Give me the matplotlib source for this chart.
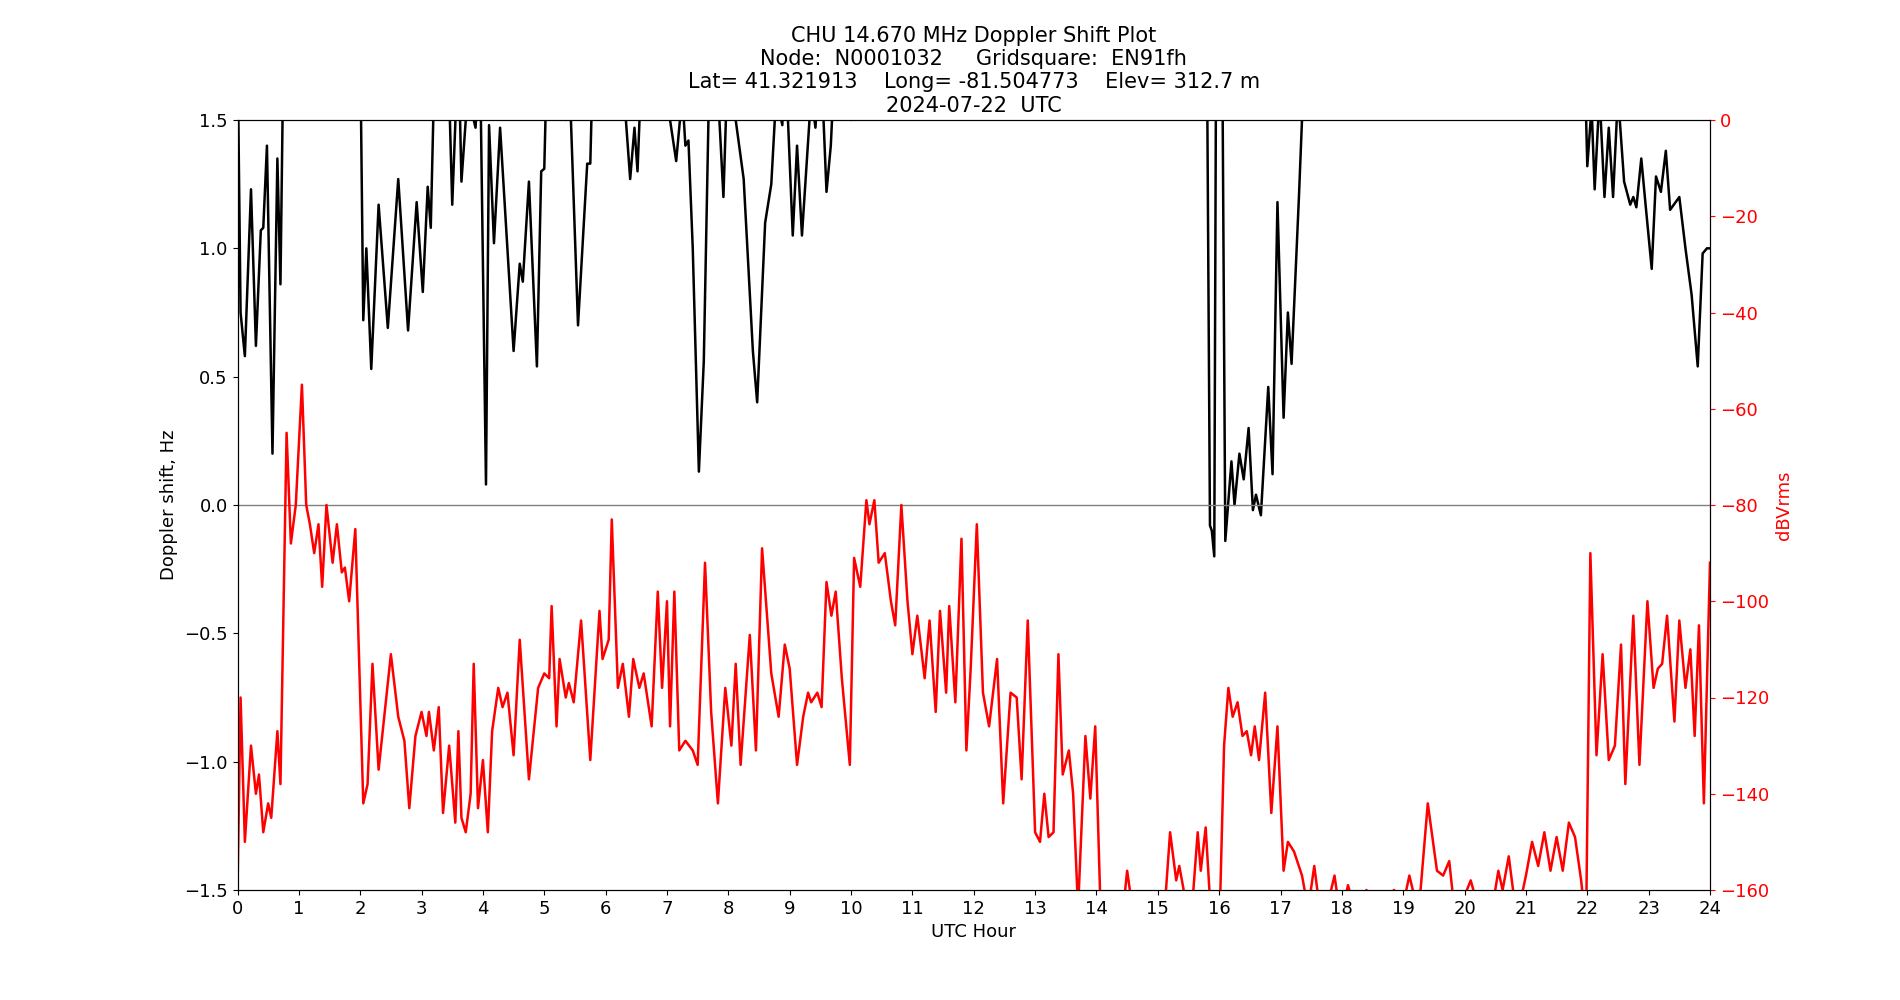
import matplotlib
matplotlib.use("Agg")
import matplotlib.pyplot as plt
import numpy as np

# Doppler shift (Hz); values above 1.5 run off the top of the plot
dop_h = [0, 0.05, 0.12, 0.22, 0.3, 0.38, 0.42, 0.48, 0.57, 0.65, 0.7, 0.75, 1.95, 2.0, 2.05, 2.1, 2.18, 2.3,
         2.45, 2.62, 2.78, 2.92, 3.02, 3.1, 3.15, 3.2, 3.3, 3.45, 3.5, 3.6, 3.65, 3.75, 3.88, 3.95, 4.05,
         4.1, 4.18, 4.28, 4.5, 4.6, 4.65, 4.75, 4.88, 4.95, 5.0, 5.05, 5.35, 5.42, 5.55, 5.7, 5.75, 5.8,
         6.3, 6.4, 6.47, 6.52, 6.6, 7.05, 7.15, 7.25, 7.3, 7.35, 7.42, 7.52, 7.6, 7.7, 7.85, 7.92, 8.0,
         8.12, 8.25, 8.4, 8.47, 8.6, 8.7, 8.78, 8.88, 8.92, 9.05, 9.12, 9.2, 9.35, 9.42, 9.5, 9.6, 9.67,
         9.75, 10.0, 10.05, 15.8, 15.85, 15.88, 15.92, 15.95, 16.05, 16.1, 16.2, 16.25, 16.33, 16.4, 16.48,
         16.55, 16.6, 16.68, 16.8, 16.87, 16.95, 17.05, 17.12, 17.18, 17.3, 17.35, 17.4, 21.95, 22.0, 22.07,
         22.12, 22.2, 22.28, 22.35, 22.42, 22.5, 22.6, 22.7, 22.75, 22.8, 22.88, 22.95, 23.05, 23.12, 23.2,
         23.28, 23.35, 23.5, 23.6, 23.7, 23.8, 23.88, 23.95, 24.0]
dop_hz = [1.8, 0.75, 0.58, 1.23, 0.62, 1.07, 1.08, 1.4, 0.2, 1.35, 0.86, 1.8, 1.8, 1.8, 0.72, 1.0, 0.53, 1.17,
          0.69, 1.27, 0.68, 1.18, 0.83, 1.24, 1.08, 1.6, 1.8, 1.6, 1.17, 1.8, 1.26, 1.6, 1.47, 1.8, 0.08,
          1.48, 1.02, 1.47, 0.6, 0.94, 0.87, 1.26, 0.54, 1.3, 1.31, 1.8, 1.5, 1.6, 0.7, 1.33, 1.33, 1.8,
          1.6, 1.27, 1.47, 1.3, 1.8, 1.5, 1.34, 1.6, 1.4, 1.42, 1.0, 0.13, 0.56, 1.8, 1.52, 1.2, 1.8,
          1.5, 1.27, 0.6, 0.4, 1.1, 1.25, 1.6, 1.48, 1.8, 1.05, 1.4, 1.05, 1.6, 1.47, 1.8, 1.22, 1.4,
          1.8, 1.5, 1.8, 1.8, -0.08, -0.1, -0.2, 1.8, 1.8, -0.14, 0.17, 0.0, 0.2, 0.1, 0.3,
          -0.02, 0.04, -0.04, 0.46, 0.12, 1.18, 0.34, 0.75, 0.55, 1.2, 1.5, 1.8, 1.8, 1.32, 1.55,
          1.23, 1.6, 1.2, 1.47, 1.2, 1.6, 1.26, 1.17, 1.2, 1.16, 1.35, 1.17, 0.92, 1.28, 1.22,
          1.38, 1.15, 1.2, 1.0, 0.82, 0.54, 0.98, 1.0, 1.0]

# Signal level (dBVrms)
pwr_h = [0, 0.05, 0.12, 0.22, 0.3, 0.35, 0.42, 0.5, 0.55, 0.65, 0.7, 0.8, 0.87, 0.95, 1.05, 1.12, 1.18, 1.25,
         1.32, 1.38, 1.45, 1.55, 1.62, 1.7, 1.75, 1.82, 1.92, 2.05, 2.12, 2.2, 2.3, 2.5, 2.62, 2.72, 2.8,
         2.9, 3.0, 3.08, 3.12, 3.2, 3.28, 3.35, 3.45, 3.55, 3.6, 3.65, 3.72, 3.8, 3.85, 3.92, 4.0, 4.08,
         4.15, 4.25, 4.32, 4.4, 4.5, 4.6, 4.75, 4.9, 5.0, 5.08, 5.12, 5.2, 5.25, 5.35, 5.4, 5.48, 5.6,
         5.75, 5.9, 5.95, 6.05, 6.1, 6.2, 6.28, 6.38, 6.45, 6.55, 6.62, 6.75, 6.85, 6.92, 7.0, 7.05, 7.12,
         7.2, 7.3, 7.42, 7.5, 7.62, 7.72, 7.83, 7.95, 8.05, 8.12, 8.2, 8.35, 8.45, 8.55, 8.7, 8.82, 8.92,
         9.0, 9.12, 9.22, 9.3, 9.35, 9.45, 9.52, 9.6, 9.68, 9.75, 9.85, 9.98, 10.05, 10.15, 10.25, 10.3,
         10.38, 10.45, 10.55, 10.65, 10.72, 10.82, 10.92, 11.0, 11.08, 11.2, 11.28, 11.38, 11.45, 11.55,
         11.6, 11.7, 11.8, 11.88, 11.95, 12.05, 12.15, 12.25, 12.38, 12.48, 12.6, 12.7, 12.78, 12.88, 13.0,
         13.08, 13.15, 13.22, 13.3, 13.38, 13.45, 13.55, 13.62, 13.7, 13.82, 13.9, 13.98, 14.08, 14.2,
         14.3, 14.42, 14.5, 14.6, 14.8, 14.9, 15.1, 15.2, 15.3, 15.35, 15.45, 15.55, 15.65, 15.7, 15.78,
         15.85, 16.0, 16.08, 16.15, 16.22, 16.3, 16.38, 16.45, 16.52, 16.58, 16.65, 16.75, 16.85, 16.95,
         17.05, 17.12, 17.22, 17.35, 17.45, 17.55, 17.65, 17.75, 17.88, 17.98, 18.1, 18.25, 18.4, 18.6,
         18.85, 19.0, 19.1, 19.25, 19.4, 19.55, 19.65, 19.75, 19.85, 20.1, 20.25, 20.45, 20.55, 20.62,
         20.72, 20.85, 21.0, 21.1, 21.2, 21.3, 21.4, 21.5, 21.6, 21.7, 21.8, 21.9, 21.98, 22.05, 22.15,
         22.25, 22.35, 22.45, 22.55, 22.62, 22.75, 22.85, 22.98, 23.08, 23.15, 23.22, 23.3, 23.42, 23.5,
         23.6, 23.68, 23.75, 23.82, 23.9, 24.0]
pwr_db = [-160, -120, -150, -130, -140, -136, -148, -142, -145, -127, -138, -65, -88, -80, -55, -80, -84, -90,
          -84, -97, -80, -92, -84, -94, -93, -100, -85, -142, -138, -113, -135, -111, -124, -129, -143,
          -128, -123, -128, -123, -131, -122, -144, -130, -146, -127, -145, -148, -140, -113, -143, -133, -148,
          -127, -118, -122, -119, -132, -108, -137, -118, -115, -116, -101, -126, -112, -120, -117, -121, -104,
          -133, -102, -112, -108, -83, -118, -113, -124, -112, -118, -115, -126, -98, -118, -100, -126, -98,
          -131, -129, -131, -134, -92, -123, -142, -118, -130, -113, -134, -107, -131, -89, -115, -124, -109,
          -114, -134, -124, -119, -121, -119, -122, -96, -103, -98, -116, -134, -91, -97, -79, -84,
          -79, -92, -90, -100, -105, -80, -100, -111, -103, -116, -104, -123, -102, -119,
          -101, -121, -87, -131, -114, -84, -119, -126, -112, -142, -119, -120, -137, -104, -148,
          -150, -140, -149, -148, -111, -136, -131, -140, -164, -128, -141, -126, -170, -165,
          -162, -166, -156, -165, -162, -165, -166, -148, -158, -155, -162, -165, -148, -156, -147,
          -162, -170, -130, -118, -124, -121, -128, -127, -132, -126, -133, -119, -144, -126,
          -156, -150, -152, -157, -164, -155, -165, -164, -157, -166, -159, -166, -160, -164,
          -160, -163, -157, -165, -142, -156, -157, -154, -166, -158, -165, -164, -156, -160,
          -153, -166, -157, -150, -155, -148, -156, -149, -156, -146, -149, -158, -168, -90, -132,
          -111, -133, -130, -109, -138, -103, -134, -100, -118, -114, -113, -103, -125, -104,
          -118, -110, -128, -105, -142, -92]

fig, ax = plt.subplots(figsize=(19, 10), dpi=100)
ax.plot(dop_h, dop_hz, color="black", lw=1.8)
ax.axhline(0, color="gray", lw=1)
ax.set_xlim(0, 24)
ax.set_ylim(-1.5, 1.5)
ax.set_xticks(range(25))
ax.set_xlabel("UTC Hour", fontsize=13)
ax.set_ylabel("Doppler shift, Hz", fontsize=13)
ax.tick_params(labelsize=13)

ax2 = ax.twinx()
ax2.plot(pwr_h, pwr_db, color="red", lw=1.8)
ax2.set_ylim(-160, 0)
ax2.set_ylabel("dBVrms", color="red", fontsize=13)
ax2.tick_params(axis="y", colors="red", labelsize=13)

ax.set_title("CHU 14.670 MHz Doppler Shift Plot\n"
             "Node:  N0001032     Gridsquare:  EN91fh\n"
             "Lat= 41.321913    Long= -81.504773    Elev= 312.7 m\n"
             "2024-07-22  UTC", fontsize=15)

fig.savefig("out.png")
